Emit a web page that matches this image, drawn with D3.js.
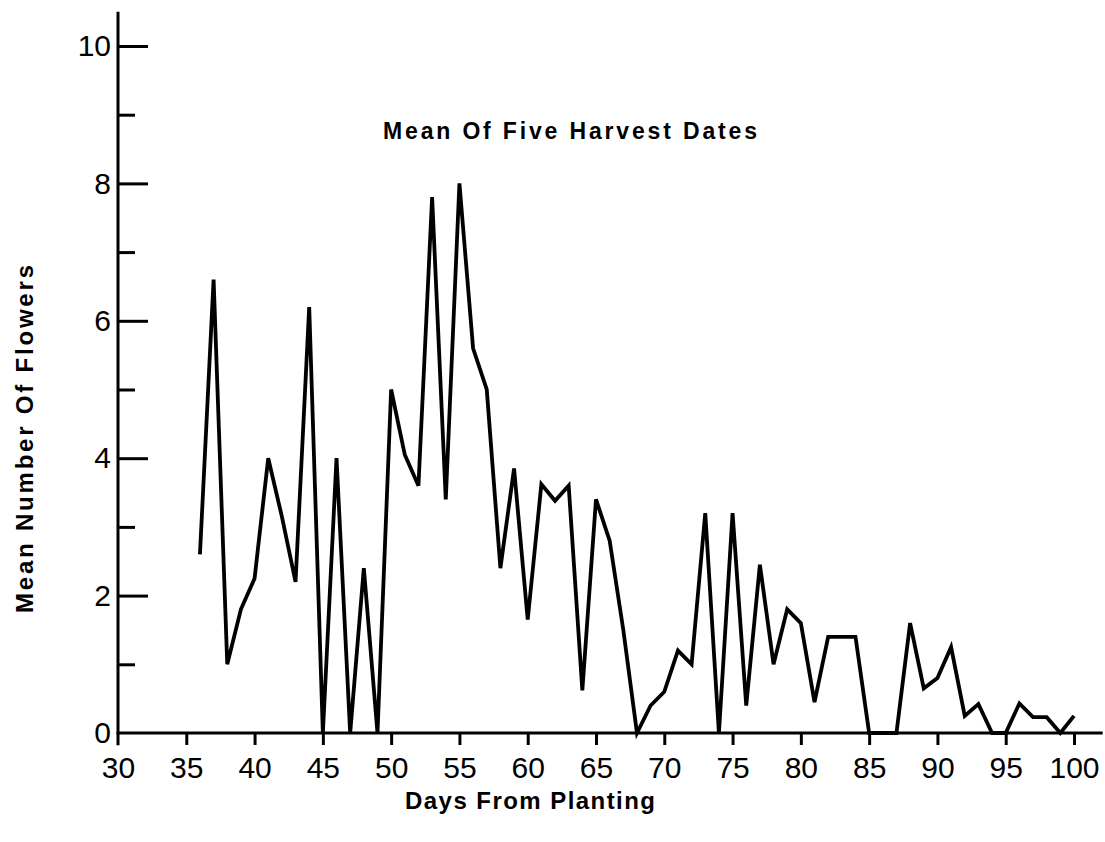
<!DOCTYPE html>
<html>
<head>
<meta charset="utf-8">
<script src="https://cdn.jsdelivr.net/npm/d3@7"></script>
<style>
  html, body { margin: 0; padding: 0; background: #fff; }
  svg { display: block; }
  text { font-family: "Liberation Sans Narrow", "Liberation Sans", "DejaVu Sans Condensed", sans-serif; fill: #000; }
</style>
</head>
<body>
<svg id="chart" width="1105" height="842"></svg>
<script>
// ---- data ----
const days = [36,37,38,39,40,41,42,43,44,45,
              46,47,48,49,50,51,52,53,54,55,
              56,57,58,59,60,61,62,63,64,65,
              66,67,68,69,70,71,72,73,74,75,
              76,77,78,79,80,81,82,83,84,85,
              86,87,88,89,90,91,92,93,94,95,
              96,97,98,99,100];
const meanFlowers = [2.6,6.6,1.0,1.8,2.25,4.0,3.15,2.2,6.2,0,
                     4.0,0,2.4,0,5.0,4.05,3.6,7.8,3.4,8.0,
                     5.6,5.0,2.4,3.85,1.65,3.62,3.38,3.6,0.62,3.4,
                     2.8,1.5,0,0.4,0.6,1.2,1.0,3.2,0,3.2,
                     0.4,2.45,1.0,1.8,1.6,0.45,1.4,1.4,1.4,0,
                     0,0,1.6,0.65,0.8,1.25,0.25,0.42,0,0,
                     0.43,0.23,0.23,0,0.25];
const xTicks = [30,35,40,45,50,55,60,65,70,75,80,85,90,95,100];
const yMajorTicks = [0,2,4,6,8,10];
const yMinorTicks = [1,3,5,7,9];
const titleText = "Mean Of Five Harvest Dates";
const xLabelText = "Days From Planting";
const yLabelText = "Mean Number Of Flowers";

// ---- scales ----
const x = d3.scaleLinear().domain([30, 100]).range([118, 1074]);
const y = d3.scaleLinear().domain([0, 10]).range([733, 46]);

const svg = d3.select("#chart");

// axis lines (extended slightly beyond the data domain, as in the drawing)
svg.append("line")
  .attr("x1", x(30)).attr("x2", x(30))
  .attr("y1", y(10.5)).attr("y2", y(-0.18))
  .attr("stroke", "#000").attr("stroke-width", 3);
svg.append("line")
  .attr("x1", x(29.9)).attr("x2", x(102.1))
  .attr("y1", y(0)).attr("y2", y(0))
  .attr("stroke", "#000").attr("stroke-width", 3);

// y axis: major ticks with labels
const yMajor = svg.append("g")
  .attr("transform", `translate(${x(30)},0)`)
  .call(d3.axisLeft(y).tickValues(yMajorTicks).tickSize(-30).tickPadding(7)
        .tickFormat(d3.format("d")));
yMajor.select(".domain").remove();
yMajor.selectAll(".tick line").attr("stroke", "#000").attr("stroke-width", 3)
  .filter(d => d === 0).remove();
yMajor.selectAll(".tick text").style("font-size", "30px").style("font-weight", "500");

// y axis: minor ticks
const yMinor = svg.append("g")
  .attr("transform", `translate(${x(30)},0)`)
  .call(d3.axisLeft(y).tickValues(yMinorTicks).tickSize(-17).tickFormat(""));
yMinor.select(".domain").remove();
yMinor.selectAll(".tick line").attr("stroke", "#000").attr("stroke-width", 3);

// x axis
const xAxis = svg.append("g")
  .attr("transform", `translate(0,${y(0)})`)
  .call(d3.axisBottom(x).tickValues(xTicks).tickSize(12).tickPadding(12)
        .tickFormat(d3.format("d")));
xAxis.select(".domain").remove();
xAxis.selectAll(".tick line").attr("stroke", "#000").attr("stroke-width", 3)
  .filter(d => d === 30).remove();
xAxis.selectAll(".tick text").style("font-size", "30px");

// data line
const pts = days.map((d, i) => [d, meanFlowers[i]]);
svg.append("path")
  .datum(pts)
  .attr("fill", "none")
  .attr("stroke", "#000")
  .attr("stroke-width", 3.8)
  .attr("stroke-linejoin", "miter")
  .attr("stroke-miterlimit", 4)
  .attr("d", d3.line().x(d => x(d[0])).y(d => y(d[1])));

// title
svg.append("text")
  .attr("x", 383).attr("y", 139)
  .attr("textLength", 374).attr("lengthAdjust", "spacing")
  .style("font-size", "23px").style("font-weight", "bold")
  .text(titleText);

// x axis label
svg.append("text")
  .attr("x", 405).attr("y", 809)
  .attr("textLength", 250).attr("lengthAdjust", "spacing")
  .style("font-size", "24px").style("font-weight", "bold")
  .text(xLabelText);

// y axis label
svg.append("text")
  .attr("transform", "translate(33,613) rotate(-90)")
  .attr("x", 0).attr("y", 0)
  .attr("textLength", 348).attr("lengthAdjust", "spacing")
  .style("font-size", "24px").style("font-weight", "bold")
  .text(yLabelText);
</script>
</body>
</html>
